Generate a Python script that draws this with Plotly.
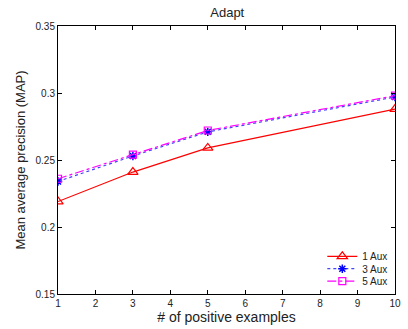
import plotly.graph_objects as go

x_vals = [1, 3, 5, 10]
aux1 = [0.219, 0.241, 0.259, 0.288]
aux3 = [0.234, 0.253, 0.271, 0.297]
aux5 = [0.236, 0.254, 0.272, 0.298]
series_names = ["1 Aux", "3 Aux", "5 Aux"]
x_ticks = list(range(1, 11))
y_ticks = [0.15, 0.2, 0.25, 0.3, 0.35]
y_tick_text = ["0.15", "0.2", "0.25", "0.3", "0.35"]

fig = go.Figure()
fig.add_trace(go.Scatter(x=x_vals, y=aux1, name=series_names[0], mode="lines+markers", legend="legend",
                         line=dict(color="#ff0000", width=1.2, dash="solid"),
                         marker=dict(symbol="triangle-up-open", size=9, color="#ff0000", line=dict(width=1.2))))
fig.add_trace(go.Scatter(x=x_vals, y=aux3, name=series_names[1], mode="lines+markers", legend="legend2",
                         line=dict(color="#4444ff", width=1.2, dash="dot"),
                         marker=dict(symbol="asterisk-open", size=7, color="#0000ff", line=dict(width=1.5, color="#0000ff"))))
fig.add_trace(go.Scatter(x=x_vals, y=aux5, name=series_names[2], mode="lines+markers", legend="legend3",
                         line=dict(color="#ff00ff", width=1.2, dash="dashdot"),
                         marker=dict(symbol="square-open", size=7, color="#ff00ff", line=dict(width=1.2))))

axis_common = dict(showgrid=False, zeroline=False, showline=True, linecolor="black", linewidth=1,
                   mirror="ticks", ticks="inside", ticklen=4, tickcolor="black",
                   tickfont=dict(size=10, color="#222222", family="Liberation Sans, Arial"))

leg_common = dict(x=0.995, xanchor="right", yanchor="middle", bgcolor="rgba(0,0,0,0)",
                  borderwidth=0, font=dict(size=10, color="#222222"), itemwidth=30)

fig.update_layout(
    width=408, height=329,
    margin=dict(l=58, r=7, t=26, b=33),
    paper_bgcolor="white", plot_bgcolor="white",
    font=dict(family="Liberation Sans, Arial", color="#222222"),
    title=dict(text="Adapt", x=0.557, xanchor="center", y=0.963, yanchor="middle",
               font=dict(size=13, color="#222222")),
    xaxis=dict(range=[1, 10], tickvals=x_ticks,
               title=dict(text="# of positive examples", font=dict(size=14), standoff=3), **axis_common),
    yaxis=dict(range=[0.15, 0.35], tickvals=y_ticks, ticktext=y_tick_text,
               title=dict(text="Mean average precision (MAP)", font=dict(size=13), standoff=6), **axis_common),
    legend=dict(y=(296 - 258) / 270, **leg_common),
    legend2=dict(y=(296 - 270.5) / 270, **leg_common),
    legend3=dict(y=(296 - 283) / 270, **leg_common),
    showlegend=True,
)

fig.write_html("out.html", config={"displayModeBar": False},
               post_script="document.body.style.margin='0';document.body.style.overflow='hidden';")
